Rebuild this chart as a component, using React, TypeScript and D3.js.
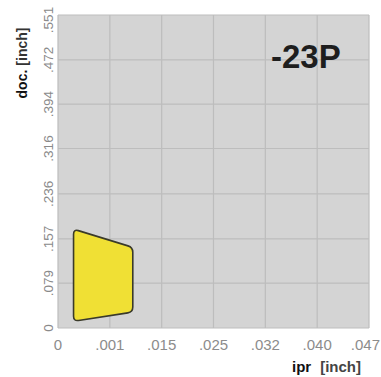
import React from "react";
import * as d3 from "d3";

const xTickValues = [0, 0.001, 0.015, 0.025, 0.032, 0.04, 0.047];
const xTickLabels = ["0", ".001", ".015", ".025", ".032", ".040", ".047"];
const yTickValues = [0, 0.079, 0.157, 0.236, 0.316, 0.394, 0.472, 0.551];
const yTickLabels = ["0", ".079", ".157", ".236", ".316", ".394", ".472", ".551"];

// chip-breaker application area (ipr, doc), corners in order
const areaIpr = [0.0003, 0.0072, 0.0072, 0.0003];
const areaDoc = [0.174, 0.142, 0.028, 0.012];

const gradeLabel = "-23P";
const xTitle = "ipr";
const yTitle = "doc.";
const unitLabel = "[inch]";

const W = 381;
const H = 377;
const left = 58;
const right = 369;
const top = 15;
const bottom = 328;

function roundedPath(pts: [number, number][], r: number) {
  const n = pts.length;
  let d = "";
  for (let i = 0; i < n; i++) {
    const p0 = pts[(i - 1 + n) % n];
    const p1 = pts[i];
    const p2 = pts[(i + 1) % n];
    const v1 = [p0[0] - p1[0], p0[1] - p1[1]];
    const v2 = [p2[0] - p1[0], p2[1] - p1[1]];
    const l1 = Math.hypot(v1[0], v1[1]);
    const l2 = Math.hypot(v2[0], v2[1]);
    const a = [p1[0] + (v1[0] / l1) * r, p1[1] + (v1[1] / l1) * r];
    const b = [p1[0] + (v2[0] / l2) * r, p1[1] + (v2[1] / l2) * r];
    d += (i === 0 ? "M" : "L") + a[0] + "," + a[1];
    d += "Q" + p1[0] + "," + p1[1] + " " + b[0] + "," + b[1];
  }
  return d + "Z";
}

export default function App() {
  const xRange = xTickValues.map(
    (_, i) => left + ((right - left) * i) / (xTickValues.length - 1)
  );
  const x = d3.scaleLinear().domain(xTickValues).range(xRange);
  const y = d3.scaleLinear().domain([0, 0.551]).range([bottom, top]);

  const pts: [number, number][] = areaIpr.map((v, i) => [x(v), y(areaDoc[i])]);
  const font = "'Liberation Sans', Arial, sans-serif";
  const last = xTickValues.length - 1;

  return (
    <svg
      width={W}
      height={H}
      style={{ position: "absolute", left: 0, top: 0, background: "#fff" }}
      fontFamily={font}
    >
      <rect x={left} y={top} width={right - left} height={bottom - top} fill="#d4d4d4" />
      {xTickValues.map((v, i) => (
        <line
          key={"gx" + i}
          x1={x(v)}
          x2={x(v)}
          y1={top}
          y2={bottom}
          stroke="#bdbdbd"
          strokeWidth={1.2}
        />
      ))}
      {yTickValues.map((v, i) => (
        <line
          key={"gy" + i}
          x1={left}
          x2={right}
          y1={y(v)}
          y2={y(v)}
          stroke="#bdbdbd"
          strokeWidth={1.2}
        />
      ))}
      <path
        d={roundedPath(pts, 5)}
        fill="#f0e034"
        stroke="#3a3a2a"
        strokeWidth={1.6}
      />
      {xTickValues.map((v, i) => (
        <text
          key={"tx" + i}
          x={i === last ? W - 1 : x(v)}
          y={350}
          textAnchor={i === last ? "end" : "middle"}
          fontSize={15}
          fill="#8c8c8c"
        >
          {xTickLabels[i]}
        </text>
      ))}
      {yTickValues.map((v, i) => (
        <text
          key={"ty" + i}
          transform={`translate(48,${Math.max(y(v), 20)}) rotate(-90)`}
          textAnchor="middle"
          dominantBaseline="central"
          fontSize={13.5}
          fill="#8a8a8a"
        >
          {yTickLabels[i]}
        </text>
      ))}
      <text
        transform="translate(22,63) rotate(-90)"
        textAnchor="middle"
        dominantBaseline="central"
        fontSize={14}
        fontWeight="bold"
        fill="#111"
      >
        {yTitle}
        <tspan dx={4} fill="#333">{unitLabel}</tspan>
      </text>
      <text x={292} y={372} fontSize={15} fontWeight="bold" fill="#111">
        {xTitle}
        <tspan dx={9} fill="#444">{unitLabel}</tspan>
      </text>
      <text x={271} y={68} fontSize={33} fontWeight="bold" fill="#1e1e1e">
        {gradeLabel}
      </text>
    </svg>
  );
}
